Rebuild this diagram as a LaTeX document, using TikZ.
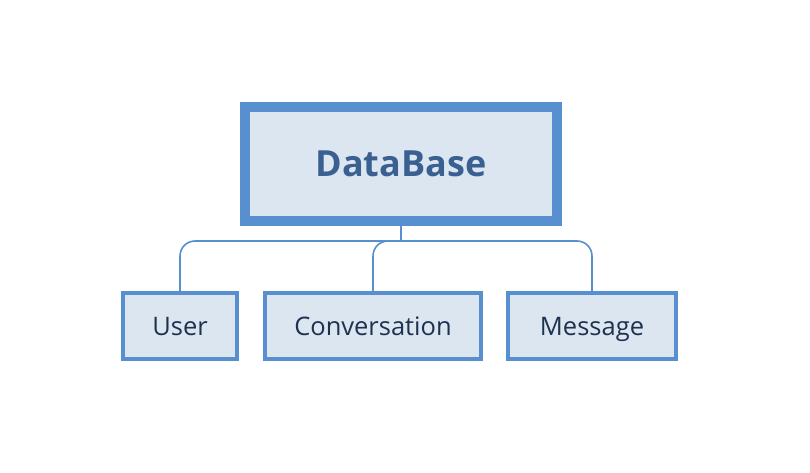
\documentclass[tikz,border=0pt]{standalone}
\usepackage{fontspec}
\setmainfont{Open Sans}
\usetikzlibrary{positioning}
\definecolor{dbBlue}{RGB}{88,143,207}
\definecolor{dbFill}{RGB}{220,230,241}
\definecolor{dbText}{RGB}{58,96,145}
\definecolor{dbNavy}{RGB}{30,50,80}

\begin{document}
\begin{tikzpicture}[x=1pt, y=1pt,
    table/.style={rectangle, draw=dbBlue, fill=dbFill, line width=3.5pt,
                  minimum height=66pt, inner sep=0pt, text=dbNavy,
                  text height=18pt, text depth=0pt,
                  font=\fontsize{25.5}{30}\selectfont},
    root/.style={rectangle, draw=dbBlue, fill=dbFill, line width=10pt,
                 minimum width=312pt, minimum height=114pt, inner sep=0pt,
                 text height=25.5pt, text depth=0pt,
                 text=dbText, font=\fontsize{36}{42}\selectfont\bfseries},
    link/.style={draw=dbBlue, line width=1.6pt}
  ]
  \useasboundingbox (0,0) rectangle (810,472);

  % Root
  \node[root] (db) at (401,308) {DataBase};

  % Tables
  \node[table, minimum width=114pt] (user) at (180,146) {User};
  \node[table, minimum width=216pt] (conv) at (373,146) {Conversation};
  \node[table, minimum width=168pt] (msg)  at (592,146) {Message};

  % Connectors
  \coordinate (bus) at (401,231);
  \draw[link] (db.south) -- (bus);
  \draw[link, rounded corners=15pt] (bus) -| (user.north);
  \draw[link, rounded corners=15pt] (bus) -| (conv.north);
  \draw[link, rounded corners=15pt] (bus) -| (msg.north);
\end{tikzpicture}
\end{document}
